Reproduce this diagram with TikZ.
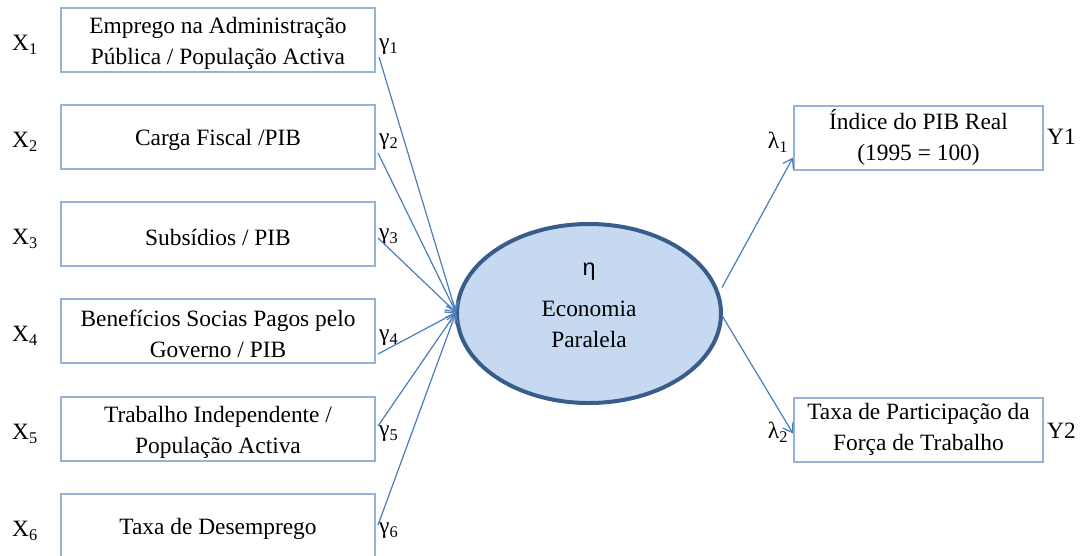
\documentclass[tikz,border=0pt]{standalone}
\usepackage{fontspec}
\setmainfont{Liberation Serif}
\newfontfamily\sansgr{Liberation Sans}
\usetikzlibrary{shapes.geometric,arrows.meta,calc}
\definecolor{boxline}{RGB}{149,179,215}
\definecolor{ellfill}{RGB}{198,217,241}
\definecolor{ellline}{RGB}{56,93,138}
\definecolor{arrowcol}{RGB}{74,126,187}
\begin{document}
\begin{tikzpicture}[x=1pt,y=-1pt,
  every node/.style={font=\fontsize{23.4}{31}\selectfont},
  varbox/.style={draw=boxline,line width=2pt,inner sep=0pt,minimum height=64pt},
  leftbox/.style={varbox,minimum width=314pt},
  rightbox/.style={varbox,minimum width=249pt,align=center},
  boxtext/.style={inner sep=0pt,align=center,yshift=-3pt},
  lbl/.style={inner sep=0pt},
  path/.style={draw=arrowcol,line width=1.2pt,-{Straight Barb[length=9pt,width=12pt,line width=1.2pt]}}
]
\useasboundingbox (0,0) rectangle (1081,555);
\fill[white] (0,0) rectangle (1081,555);

% left boxes
\node[leftbox] (b1) at (218,40) {};
\node[leftbox] (b2) at (218,137) {};
\node[leftbox] (b3) at (218,234) {};
\node[leftbox] (b4) at (218,331) {};
\node[leftbox] (b5) at (218,429) {};
\node[leftbox] (b6) at (218,526) {};
\node[boxtext] (t1) at (b1.center) {Emprego na Administração\\Pública / População Activa};
\node[boxtext] (t2) at (b2.center) {Carga Fiscal /PIB};
\node[boxtext] (t3) at (b3.center) {Subsídios / PIB};
\node[boxtext] (t4) at (b4.center) {Benefícios Socias Pagos pelo\\Governo / PIB};
\node[boxtext] (t5) at (b5.center) {Trabalho Independente /\\População Activa};
\node[boxtext] (t6) at (b6.center) {Taxa de Desemprego};

% X labels
\node[lbl,anchor=west] (x1) at (12,45) {X\textsubscript{1}};
\node[lbl,anchor=west] (x2) at (12,142) {X\textsubscript{2}};
\node[lbl,anchor=west] (x3) at (12,239) {X\textsubscript{3}};
\node[lbl,anchor=west] (x4) at (12,336) {X\textsubscript{4}};
\node[lbl,anchor=west] (x5) at (12,434) {X\textsubscript{5}};
\node[lbl,anchor=west] (x6) at (12,531) {X\textsubscript{6}};

% ellipse
\node[ellipse,draw=ellline,fill=ellfill,line width=4pt,minimum width=264pt,minimum height=179pt,inner sep=0pt] (e) at (589,313.5) {};
\node[lbl] (eta) at (589,272) {\sansgr η};
\node[lbl,align=center] (etxt) at (589,324) {Economia\\Paralela};

% right boxes
\node[rightbox] (y1) at (918.5,137.5) {Índice do PIB Real\\(1995 = 100)};
\node[rightbox] (y2) at (918.5,429.5) {Taxa de Participação da\\Força de Trabalho};

\node[lbl,anchor=west] (y1l) at (1047,137) {Y1};
\node[lbl,anchor=west] (y2l) at (1047,431) {Y2};

% gamma labels
\node[lbl,anchor=west] (g1) at (379,47) {γ\textsubscript{1}};
\node[lbl,anchor=west] (g2) at (379,142) {γ\textsubscript{2}};
\node[lbl,anchor=west] (g3) at (379,237) {γ\textsubscript{3}};
\node[lbl,anchor=west] (g4) at (379,338) {γ\textsubscript{4}};
\node[lbl,anchor=west] (g5) at (379,434) {γ\textsubscript{5}};
\node[lbl,anchor=west] (g6) at (379,531) {γ\textsubscript{6}};

% lambda labels
\node[lbl] (l1) at (778,142) {λ\textsubscript{1}};
\node[lbl] (l2) at (778,432) {λ\textsubscript{2}};

% start points
\coordinate (s1) at ($(b1.east)+(3,17)$);
\coordinate (s2) at ($(b2.east)+(2,16)$);
\coordinate (s3) at ($(b3.east)+(2,4)$);
\coordinate (s4) at ($(b4.east)+(2,23)$);
\coordinate (s5) at ($(b5.east)+(2,-3)$);
\coordinate (s6) at ($(b6.east)+(2,-1)$);
\coordinate (t) at ($(e.west)+(1,-1)$);

\foreach \s in {s1,s2,s3,s4,s5,s6} \draw[path] (\s) -- (t);

\coordinate (r1) at ($(e.east)+(-1,-26)$);
\coordinate (r2) at ($(e.east)+(-1,2)$);
\draw[path] (r1) -- ($(y1.west)+(0,20)$);
\draw[path] (r2) -- ($(y2.west)+(0,4)$);
\end{tikzpicture}
\end{document}
